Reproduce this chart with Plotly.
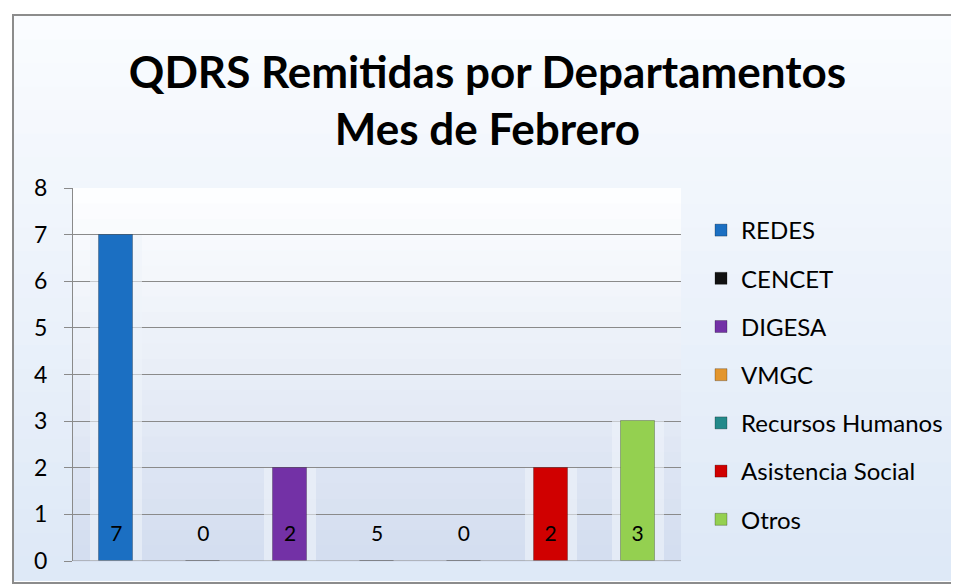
import plotly.graph_objects as go

categories = ["REDES", "CENCET", "DIGESA", "VMGC", "Recursos Humanos", "Asistencia Social", "Otros"]
values = [7, 0, 2, 0, 0, 2, 3]
label_texts = ["7", "0", "2", "5", "0", "2", "3"]
colors = ["#1b6fc2", "#111111", "#7331a6", "#e3962e", "#23898a", "#d00000", "#94d050"]
title_text = "QDRS Remitidas por Departamentos<br>Mes de Febrero"
y_ticks = [0, 1, 2, 3, 4, 5, 6, 7, 8]

W, H = 959, 584
L, R, T, B = 65, 286, 180, 31
pw, ph = W - L - R, H - T - B

def px2paper_x(px):
    return (px - L) / pw

def px2paper_y(py):
    return (H - B - py) / ph

fig = go.Figure()

# halo bars behind
fig.add_trace(go.Bar(x=categories, y=values, width=0.6,
                     marker=dict(color="rgba(238,243,250,0.6)", line=dict(width=0)),
                     showlegend=False, hoverinfo="skip"))

for i, (c, v, col) in enumerate(zip(categories, values, colors)):
    fig.add_trace(go.Bar(x=[c], y=[v], name=c, width=0.39,
                         marker=dict(color=col, line=dict(color="rgba(0,0,0,0.25)", width=1)),
                         legendgroup=c))

fig.add_trace(go.Scatter(x=categories, y=[0.55] * len(categories), text=label_texts,
                         mode="text", textfont=dict(size=21, color="#000000", family="Lato"),
                         showlegend=False, hoverinfo="skip"))

shapes = []
n = 24
top_c = (250, 252, 255)
bot_c = (222, 233, 247)
for k in range(n):
    t = k / (n - 1)
    c = tuple(int(top_c[j] + (bot_c[j] - top_c[j]) * t) for j in range(3))
    y0 = 8 + (572 - 8) * k / n
    y1 = 8 + (572 - 8) * (k + 1) / n + 1
    shapes.append(dict(type="rect", xref="paper", yref="paper", layer="below",
                       x0=px2paper_x(6), x1=px2paper_x(953), y0=px2paper_y(y0), y1=px2paper_y(y1),
                       fillcolor="rgb(%d,%d,%d)" % c, line=dict(width=0)))
ptop = (253, 254, 255)
pbot = (212, 222, 240)
for k in range(n):
    t = k / (n - 1)
    c = tuple(int(ptop[j] + (pbot[j] - ptop[j]) * t) for j in range(3))
    shapes.append(dict(type="rect", xref="paper", yref="paper", layer="below",
                       x0=0, x1=1, y0=1 - k / n, y1=1 - (k + 1) / n - 0.002,
                       fillcolor="rgb(%d,%d,%d)" % c, line=dict(width=0)))
shapes.append(dict(type="rect", xref="paper", yref="paper", layer="above",
                   x0=px2paper_x(5), x1=px2paper_x(954), y0=px2paper_y(7), y1=px2paper_y(575),
                   line=dict(color="#8c8c8c", width=2), fillcolor="rgba(0,0,0,0)"))

fig.update_layout(
    width=W, height=H,
    margin=dict(l=L, r=R, t=T, b=B),
    paper_bgcolor="#ffffff",
    plot_bgcolor="rgba(0,0,0,0)",
    barmode="overlay",
    bargap=0,
    shapes=shapes,
    title=dict(text="<b>" + title_text + "</b>", x=0.5, xanchor="center", y=1 - 80 / H,
               yanchor="middle", font=dict(family="Lato", size=44, color="#000000")),
    font=dict(family="Lato", color="#000000"),
    xaxis=dict(showticklabels=False, showgrid=False, zeroline=False, showline=False,
               ticks="", categoryorder="array", categoryarray=categories),
    yaxis=dict(range=[0, 8], tickvals=y_ticks, showgrid=True, gridcolor="#8a8a8a", gridwidth=1,
               zeroline=False, showline=True, linecolor="#8a8a8a", linewidth=1,
               ticks="outside", ticklen=8, tickcolor="#8a8a8a", ticklabelstandoff=12,
               tickfont=dict(size=23, color="#000000", family="Lato")),
    legend=dict(x=px2paper_x(693), y=px2paper_y(200), xanchor="left", yanchor="top",
                font=dict(size=24, color="#000000", family="Lato"),
                bgcolor="rgba(0,0,0,0)", traceorder="grouped", tracegroupgap=14,
                itemwidth=30),
)
fig.add_shape(type="line", xref="paper", yref="y", x0=0, x1=1, y0=0, y1=0,
              line=dict(color="#8a8a8a", width=1), layer="above")

fig.write_html("out.html")
